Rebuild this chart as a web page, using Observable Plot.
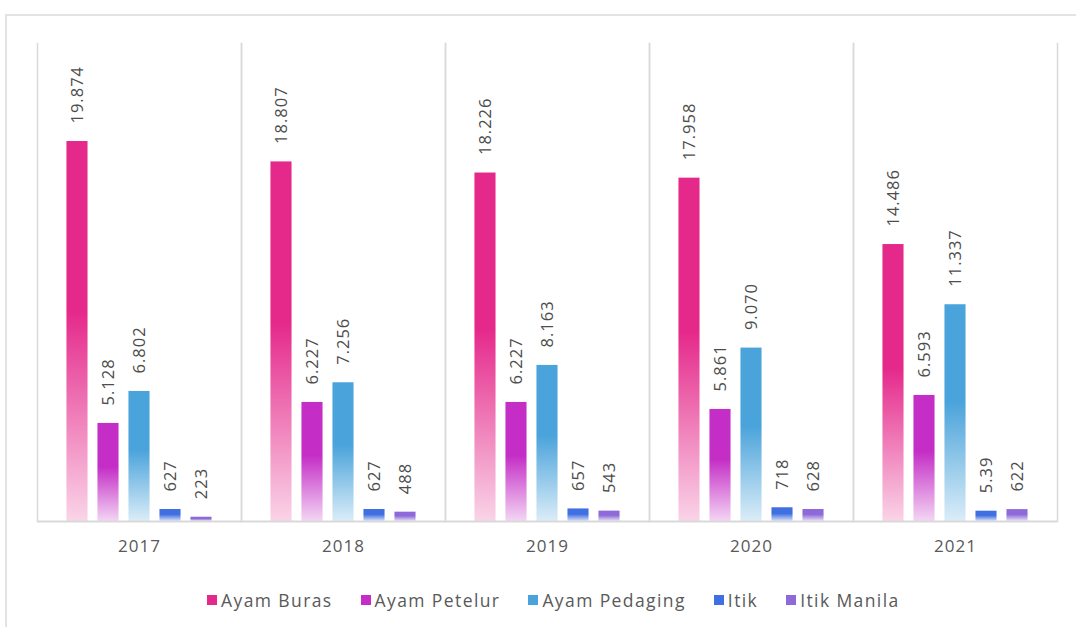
<!DOCTYPE html>
<html>
<head>
<meta charset="utf-8">
<script src="https://cdn.jsdelivr.net/npm/d3@7"></script>
<script src="https://cdn.jsdelivr.net/npm/@observablehq/plot@0.6"></script>
<style>
  html, body { margin: 0; padding: 0; background: #fff; overflow: hidden; width: 1076px; height: 627px; }
  #frame { position: absolute; left: 5px; top: 14px; width: 1100px; height: 700px; border: 2px solid #e3e3e3; box-sizing: border-box; }
  #chart { position: absolute; left: 0; top: 0; }
  #legend { position: absolute; left: 207px; top: 588px; display: flex; gap: 28px; font-family: "Open Sans", sans-serif; font-size: 17.5px; color: #595959; letter-spacing: 1.4px; }
  #legend .item { display: flex; align-items: center; }
  #legend .sw { width: 10px; height: 10px; margin-right: 4px; }
</style>
</head>
<body>
<div id="frame"></div>
<div id="chart"></div>
<div id="legend"></div>
<script>
const years = ["2017", "2018", "2019", "2020", "2021"];
const seriesNames = ["Ayam Buras", "Ayam Petelur", "Ayam Pedaging", "Itik", "Itik Manila"];
const ayamBuras = [19874, 18807, 18226, 17958, 14486];
const ayamPetelur = [5128, 6227, 6227, 5861, 6593];
const ayamPedaging = [6802, 7256, 8163, 9070, 11337];
const itik = [627, 627, 657, 718, 539];
const itikManila = [223, 488, 543, 628, 622];
const seriesColors = ["#e5298b", "#c42ec6", "#4aa3db", "#3f6fe0", "#8d6ad8"];
// label text exactly as printed in the source (one printed as "5.39")
const labelOverrides = {"Itik|2021": "5.39"};

const seriesValues = [ayamBuras, ayamPetelur, ayamPedaging, itik, itikManila];
const fmt = d3.formatLocale({decimal: ",", thousands: ".", grouping: [3], currency: ["", ""]}).format(",");
const data = [];
years.forEach((y, i) => {
  seriesNames.forEach((s, j) => {
    const v = seriesValues[j][i];
    data.push({year: y, series: s, value: v, label: labelOverrides[`${s}|${y}`] ?? fmt(v)});
  });
});

const gradIds = seriesNames.map((s, j) => `grad${j}`);

const chart = Plot.plot({
  width: 1076,
  height: 560,
  marginLeft: 35,
  marginRight: 17,
  marginTop: 43,
  marginBottom: 39,
  style: {fontFamily: "Open Sans, sans-serif", background: "transparent", letterSpacing: "1px"},
  fx: {domain: years, padding: 0, label: null},
  x: {domain: seriesNames, paddingInner: 0.32, paddingOuter: 0.95, round: false, axis: null},
  y: {domain: [0, 25000], axis: null},
  color: {type: "ordinal", domain: seriesNames, range: gradIds.map(id => `url(#${id})`)},
  marks: [
    Plot.frame({anchor: "left", stroke: "#d9d9d9", strokeWidth: 1.5}),
    Plot.frame({anchor: "right", stroke: "#d9d9d9", strokeWidth: 1.5}),
    Plot.barY(data, {fx: "year", x: "series", y: "value", fill: "series"}),
    Plot.ruleY([0], {stroke: "#d9d9d9", strokeWidth: 2}),
    Plot.text(data, {fx: "year", x: "series", y: "value", text: "label", rotate: -90,
      textAnchor: "start", lineAnchor: "middle", dy: -18, fontSize: 16.5, fill: "#4d4d4d"}),
    Plot.axisFx({anchor: "bottom", tickSize: 0, tickPadding: 18, fontSize: 17, fill: "#595959", label: null})
  ]
});

// gradient definitions
const ns = "http://www.w3.org/2000/svg";
const defs = document.createElementNS(ns, "defs");
seriesColors.forEach((c, j) => {
  const g = document.createElementNS(ns, "linearGradient");
  g.setAttribute("id", gradIds[j]);
  g.setAttribute("x1", "0"); g.setAttribute("y1", "0");
  g.setAttribute("x2", "0"); g.setAttribute("y2", "1");
  [[0, 1], [0.45, 1], [1, 0.2]].forEach(([o, a]) => {
    const st = document.createElementNS(ns, "stop");
    st.setAttribute("offset", o);
    st.setAttribute("stop-color", c);
    st.setAttribute("stop-opacity", a);
    g.appendChild(st);
  });
  defs.appendChild(g);
});
chart.insertBefore(defs, chart.firstChild);
document.getElementById("chart").appendChild(chart);

// legend
const legend = document.getElementById("legend");
seriesNames.forEach((s, j) => {
  const item = document.createElement("div");
  item.className = "item";
  const sw = document.createElement("span");
  sw.className = "sw";
  sw.style.background = seriesColors[j];
  const t = document.createElement("span");
  t.textContent = s;
  item.appendChild(sw);
  item.appendChild(t);
  legend.appendChild(item);
});
</script>
</body>
</html>
